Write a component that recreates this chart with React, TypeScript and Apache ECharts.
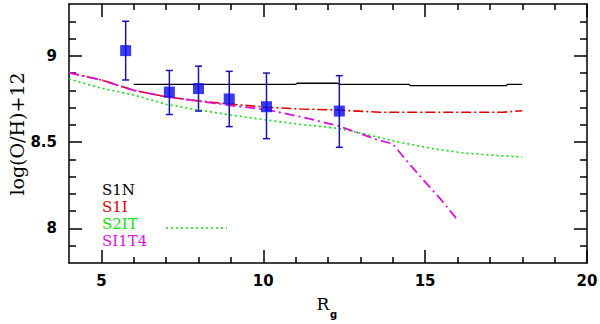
import React, { useEffect, useRef } from "react";
import * as echarts from "echarts";

// Observations (blue squares with error bars)
const obsR = [5.75, 7.1, 8.0, 8.95, 10.1, 12.35];
const obsY = [9.03, 8.79, 8.81, 8.75, 8.705, 8.68];
const obsHi = [9.2, 8.915, 8.94, 8.91, 8.9, 8.885];
const obsLo = [8.86, 8.66, 8.68, 8.59, 8.52, 8.47];

// Model curves
const s1nR = [6.0, 11.0, 11.05, 12.3, 12.35, 14.5, 14.55, 17.5, 17.55, 18.0];
const s1nY = [8.835, 8.835, 8.841, 8.841, 8.835, 8.835, 8.827, 8.827, 8.835, 8.835];

const s1iR = [4, 5, 6, 7, 8, 9, 10.1, 11.15, 12.3, 13.6, 15, 17.4, 18.0];
const s1iY = [8.902, 8.86, 8.8, 8.763, 8.738, 8.72, 8.702, 8.692, 8.686, 8.673, 8.673, 8.673, 8.682];

const s2itR = [4, 5, 6, 7, 8, 9, 10.1, 11.15, 12.3, 13.2, 14.1, 15.3, 16.2, 17.0, 18.0];
const s2itY = [8.866, 8.812, 8.773, 8.719, 8.686, 8.657, 8.628, 8.603, 8.58, 8.545, 8.503, 8.46, 8.437, 8.425, 8.414];

const si1t4R = [4, 5, 6, 7, 8, 9, 10.1, 11.2, 12.3, 13.0, 13.5, 14.0, 14.35, 14.9, 15.5, 16.0];
const si1t4Y = [8.902, 8.86, 8.8, 8.763, 8.738, 8.712, 8.688, 8.645, 8.595, 8.55, 8.515, 8.49, 8.41, 8.29, 8.165, 8.05];

// Axes
const xMajor = [5, 10, 15, 20];
const xMinor = [6, 7, 8, 9, 11, 12, 13, 14, 16, 17, 18, 19];
const yMajor = [8, 8.5, 9];
const yMinor = [7.9, 8.1, 8.2, 8.3, 8.4, 8.6, 8.7, 8.8, 8.9, 9.1, 9.2];

const legendNames = ["S1N", "S1I", "S2IT", "SI1T4"];
const legendColors = ["#000000", "#dd0000", "#11dd11", "#dd11dd"];

const zip = (a: number[], b: number[]) => a.map((v, i) => [v, b[i]]);

export default function App() {
  const ref = useRef<HTMLDivElement>(null);
  useEffect(() => {
    if (!ref.current) return;
    const chart = echarts.init(ref.current, undefined, { renderer: "svg" });
    const lineCol = { color: "#000", width: 1.5 };
    const tickFont = { fontSize: 15, fontWeight: "bold" as const, color: "#000", fontFamily: "DejaVu Sans" };
    const mkX = (pos: "bottom" | "top", major: boolean) => ({
      type: "value",
      min: 4,
      max: 20,
      position: pos,
      axisLine: { show: major, lineStyle: lineCol },
      axisTick: { show: true, inside: true, length: major ? 13 : 6, customValues: major ? xMajor : xMinor, lineStyle: lineCol },
      axisLabel: pos === "bottom" && major ? { ...tickFont, margin: 10, customValues: xMajor } : { show: false },
      splitLine: { show: false },
    });
    const mkY = (pos: "left" | "right", major: boolean) => ({
      type: "value",
      min: 7.8,
      max: 9.3,
      position: pos,
      axisLine: { show: major, lineStyle: lineCol },
      axisTick: { show: true, inside: true, length: major ? 13 : 7, customValues: major ? yMajor : yMinor, lineStyle: lineCol },
      axisLabel: pos === "left" && major ? { ...tickFont, margin: 12, customValues: yMajor } : { show: false },
      splitLine: { show: false },
    });
    const legendTexts = legendNames.map((n, i) => ({
      type: "text",
      left: 102,
      top: 182 + i * 17,
      style: { text: n, fill: legendColors[i], fontSize: 15, lineHeight: 15, fontFamily: "DejaVu Serif" },
    }));
    chart.setOption({
      animation: false,
      backgroundColor: "#fff",
      grid: { left: 69, right: 13, top: 4, bottom: 61, containLabel: false, outerBoundsMode: "none" },
      xAxis: [mkX("bottom", true), mkX("bottom", false), mkX("top", true), mkX("top", false)],
      yAxis: [mkY("left", true), mkY("left", false), mkY("right", true), mkY("right", false)],
      graphic: [
        ...legendTexts,
        {
          type: "line",
          shape: { x1: 166, y1: 228, x2: 227, y2: 228 },
          style: { stroke: legendColors[2], lineWidth: 1.5, lineDash: [2, 3] },
        },
        {
          type: "text",
          x: 17,
          y: 134,
          rotation: Math.PI / 2,
          style: { text: "log(O/H)+12", fill: "#000", fontSize: 19, fontFamily: "DejaVu Serif", align: "center", verticalAlign: "middle" },
        },
        {
          type: "text",
          x: 323,
          y: 304,
          style: { text: "R", fill: "#000", fontSize: 17, fontFamily: "DejaVu Serif", align: "center", verticalAlign: "middle" },
        },
        {
          type: "text",
          x: 330,
          y: 314,
          style: { text: "g", fill: "#000", fontSize: 10, fontWeight: "bold", fontFamily: "DejaVu Sans", align: "left", verticalAlign: "middle" },
        },
      ],
      series: [
        {
          type: "line",
          data: zip(s1nR, s1nY),
          showSymbol: false,
          lineStyle: { color: legendColors[0], width: 1.3 },
          z: 2,
        },
        {
          type: "line",
          data: zip(s1iR, s1iY),
          showSymbol: false,
          lineStyle: { color: legendColors[1], width: 1.6, type: [10, 3, 2, 3] },
          z: 2,
        },
        {
          type: "line",
          data: zip(s2itR, s2itY),
          showSymbol: false,
          lineStyle: { color: legendColors[2], width: 1.6, type: [2, 3] },
          z: 2,
        },
        {
          type: "line",
          data: zip(si1t4R, si1t4Y),
          showSymbol: false,
          lineStyle: { color: legendColors[3], width: 1.8, type: [10, 4, 2, 4] },
          z: 3,
        },
        {
          type: "custom",
          data: obsR.map((r, i) => [r, obsLo[i], obsHi[i]]),
          z: 4,
          renderItem: (params: any, api: any) => {
            const x = api.value(0);
            const lo = api.coord([x, api.value(1)]);
            const hi = api.coord([x, api.value(2)]);
            const st = { stroke: "#1414b0", lineWidth: 1.5 };
            return {
              type: "group",
              children: [
                { type: "line", shape: { x1: lo[0], y1: lo[1], x2: hi[0], y2: hi[1] }, style: st },
                { type: "line", shape: { x1: lo[0] - 3.5, y1: lo[1], x2: lo[0] + 3.5, y2: lo[1] }, style: st },
                { type: "line", shape: { x1: hi[0] - 3.5, y1: hi[1], x2: hi[0] + 3.5, y2: hi[1] }, style: st },
              ],
            };
          },
        },
        {
          type: "scatter",
          data: zip(obsR, obsY),
          symbol: "rect",
          symbolSize: 11,
          itemStyle: { color: "#0a0ae8" },
          z: 5,
        },
      ],
    });
    return () => chart.dispose();
  }, []);
  return <div ref={ref} style={{ width: 600, height: 324, position: "absolute", left: 0, top: 0 }} />;
}
